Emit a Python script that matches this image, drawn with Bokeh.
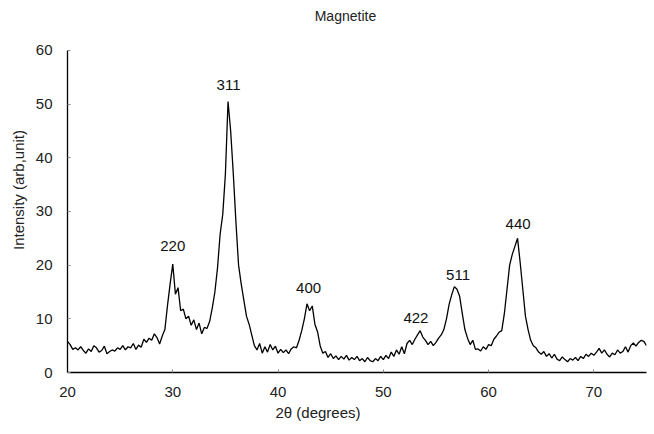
from bokeh.plotting import figure
from bokeh.embed import file_html
from bokeh.resources import INLINE
from bokeh.models import Title, Range1d, FixedTicker, ColumnDataSource
from bokeh.core.properties import value

# 2-theta sampling grid (degrees), 0.25 deg step from 20 to 75
two_theta = [20 + 0.25 * i for i in range(221)]

# Intensity (arb. unit), four values per degree
intensity = [
    5.8, 5.2, 4.3, 4.6,      # 20
    4.2, 4.8, 4.1, 3.6,      # 21
    4.4, 3.9, 5.0, 4.6,      # 22
    3.8, 4.1, 4.9, 3.5,      # 23
    3.9, 4.2, 4.0, 4.6,      # 24
    4.3, 5.0, 4.2, 4.8,      # 25
    4.6, 5.4, 4.3, 5.1,      # 26
    4.7, 6.2, 5.6, 6.4,      # 27
    6.0, 7.2, 6.5, 5.3,      # 28
    6.8, 8.0, 12.5, 16.5,    # 29
    20.2, 14.6, 15.8, 11.5,  # 30
    11.8, 10.0, 10.5, 8.8,   # 31
    9.8, 8.0, 9.2, 7.2,      # 32
    8.4, 8.2, 9.5, 12.0,     # 33
    15.0, 19.5, 25.8, 29.5,  # 34
    37.0, 50.5, 45.0, 37.0,  # 35
    28.0, 20.0, 16.5, 13.5,  # 36
    10.5, 9.0, 7.0, 5.0,     # 37
    4.2, 5.4, 3.6, 4.8,      # 38
    3.8, 5.2, 4.2, 4.9,      # 39
    3.6, 4.3, 3.7, 4.2,      # 40
    3.5, 4.4, 4.8, 4.6,      # 41
    6.0, 7.8, 10.0, 12.8,    # 42
    11.5, 12.4, 9.0, 7.6,    # 43
    5.0, 3.6, 3.9, 2.8,      # 44
    3.5, 2.6, 3.1, 2.4,      # 45
    3.0, 2.5, 3.2, 2.3,      # 46
    2.8, 2.4, 3.0, 2.2,      # 47
    2.6, 2.0, 2.8, 2.2,      # 48
    2.0, 2.6, 2.2, 3.0,      # 49
    2.4, 3.2, 2.6, 3.8,      # 50
    3.0, 4.2, 3.4, 4.8,      # 51
    3.5, 5.4, 6.0, 5.2,      # 52
    6.2, 7.0, 7.8, 6.6,      # 53
    6.0, 5.2, 5.8, 5.0,      # 54
    5.6, 6.4, 7.0, 8.0,      # 55
    10.0, 12.7, 14.5, 16.0,  # 56
    15.5, 14.2, 11.0, 8.0,   # 57
    6.4, 5.2, 6.0, 4.3,      # 58
    4.4, 4.0, 4.8, 4.3,      # 59
    5.2, 5.0, 6.2, 6.8,      # 60
    7.5, 7.8, 11.0, 15.5,    # 61
    20.0, 22.0, 23.5, 25.0,  # 62
    20.5, 15.5, 10.5, 8.0,   # 63
    6.0, 5.0, 4.6, 3.8,      # 64
    3.4, 3.9, 3.0, 3.5,      # 65
    2.7, 3.4, 2.5, 2.2,      # 66
    2.9, 2.4, 2.0, 2.6,      # 67
    2.3, 2.8, 2.2, 3.0,      # 68
    2.6, 3.4, 3.0, 3.6,      # 69
    3.2, 3.8, 4.5, 3.6,      # 70
    4.2, 3.4, 2.9, 3.6,      # 71
    3.3, 4.2, 3.6, 3.9,      # 72
    4.8, 3.8, 5.0, 5.5,      # 73
    4.9, 5.6, 6.0, 5.8,      # 74
    5.0,                     # 75
]

# Peak (hkl) labels and their positions
peak_names = ["220", "311", "400", "422", "511", "440"]
peak_x = [30.0, 35.3, 42.9, 53.1, 57.1, 62.8]
peak_y = [23.5, 53.5, 15.8, 10.2, 18.1, 27.7]

# Chart title and its position
title_text = ["Magnetite"]
title_x = [46.4]
title_y = [66.4]

x_ticks = [20, 30, 40, 50, 60, 70]
y_ticks = [0, 10, 20, 30, 40, 50, 60]

FONT = "Liberation Sans"

p = figure(width=650, height=430, output_backend="svg", toolbar_location=None,
           x_range=Range1d(20, 75), y_range=Range1d(0, 68),
           min_border_left=67, min_border_right=4, min_border_top=7, min_border_bottom=58)
p.outline_line_color = None
p.xgrid.visible = False
p.ygrid.visible = False

p.line(two_theta, intensity, line_color="black", line_width=1.3)

src = ColumnDataSource(dict(x=peak_x, y=peak_y, t=peak_names))
p.text(x="x", y="y", text="t", source=src, text_align="center",
       text_baseline="middle", text_font=value(FONT),
       text_font_size="15px", text_color="#111111")

tsrc = ColumnDataSource(dict(x=title_x, y=title_y, t=title_text))
p.text(x="x", y="y", text="t", source=tsrc, text_align="center",
       text_baseline="middle", text_font=value(FONT),
       text_font_size="14px", text_color="#222222")

for ax in (p.xaxis[0], p.yaxis[0]):
    ax.axis_line_color = "black"
    ax.axis_line_width = 1.3
    ax.major_tick_out = 0
    ax.major_tick_in = 3
    ax.major_tick_line_color = "#888888"
    ax.minor_tick_line_color = None
    ax.major_label_text_font = FONT
    ax.major_label_text_font_size = "15px"
    ax.major_label_text_color = "#222222"
    ax.axis_label_text_font = FONT
    ax.axis_label_text_font_style = "normal"
    ax.axis_label_text_font_size = "15px"
    ax.axis_label_text_color = "#222222"

p.xaxis.major_label_standoff = 14
p.yaxis.major_label_standoff = 15
p.xaxis.ticker = FixedTicker(ticks=x_ticks)
p.yaxis.ticker = FixedTicker(ticks=y_ticks)
p.yaxis.bounds = (0, 60)
p.yaxis.axis_label = "Intensity (arb,unit)"
p.yaxis.axis_label_standoff = 6

xlabel = Title(text="2θ (degrees)", align="left", offset=208, standoff=5,
               text_font=FONT, text_font_size="15px", text_font_style="normal",
               text_color="#222222")
p.add_layout(xlabel, "below")

open("out.html", "w").write(file_html(p, INLINE))
